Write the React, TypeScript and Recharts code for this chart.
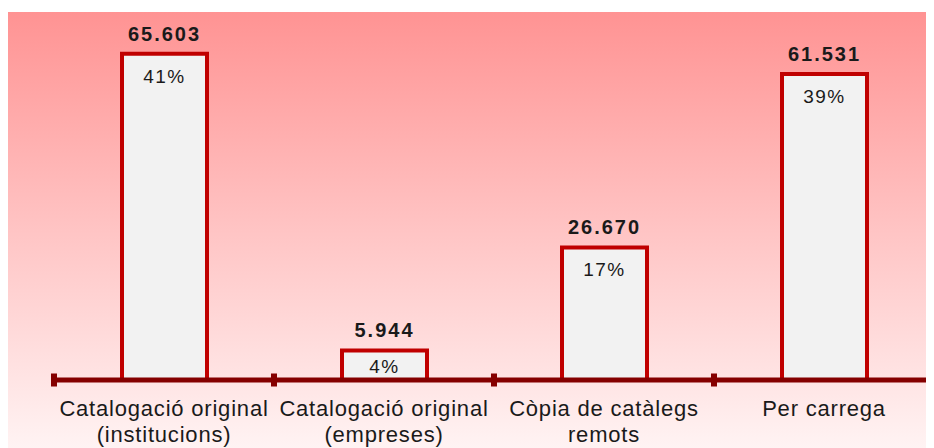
import React from 'react';
import { BarChart, Bar, XAxis, YAxis, LabelList } from 'recharts';

const categories: string[][] = [
  ['Catalogació original', '(institucions)'],
  ['Catalogació original', '(empreses)'],
  ['Còpia de catàlegs', 'remots'],
  ['Per carrega'],
];
const values: number[] = [65603, 5944, 26670, 61531];
const percents: string[] = ['41%', '4%', '17%', '39%'];

const data = categories.map((c, i) => ({
  name: c.join(' '),
  value: values[i],
  pct: percents[i],
  idx: i,
}));

const fmt = (v: number) => String(v).replace(/\B(?=(\d{3})+(?!\d))/g, '.');
const FONT = '"Liberation Sans", Arial, sans-serif';

const AxisTick = (props: any) => {
  const { x, y, payload, index, visibleTicksCount } = props;
  const half = payload && typeof payload.offset === 'number' && payload.offset > 0 ? payload.offset : 110;
  const lines = categories[payload.index ?? index] || [];
  const count = visibleTicksCount ?? categories.length;
  return (
    <g>
      <rect x={x - half - 3} y={y - 6.5} width={6} height={13} fill="#850000" />
      {index === count - 1 && (
        <rect x={x + half - 3} y={y - 6.5} width={6} height={13} fill="#850000" />
      )}
      {lines.map((l, i) => (
        <text
          key={i}
          x={x}
          y={y + 36 + i * 26}
          textAnchor="middle"
          fontFamily={FONT}
          fontSize={22}
          letterSpacing={0.8}
          fill="#1a1a1a"
        >
          {l}
        </text>
      ))}
    </g>
  );
};

const ValueLabel = (props: any) => {
  const { x, y, width, value } = props;
  return (
    <text
      x={x + width / 2}
      y={y - 13}
      textAnchor="middle"
      fontFamily={FONT}
      fontWeight="bold"
      fontSize={20}
      letterSpacing={2}
      fill="#1a1a1a"
    >
      {fmt(value)}
    </text>
  );
};

const PctLabel = (props: any) => {
  const { x, y, width, height, value } = props;
  const dy = Math.min(29, height * 0.75);
  return (
    <text
      x={x + width / 2}
      y={y + dy}
      textAnchor="middle"
      fontFamily={FONT}
      fontSize={19}
      letterSpacing={1.5}
      fill="#1a1a1a"
    >
      {value}
    </text>
  );
};

export default function App() {
  return (
    <div style={{ position: 'relative', width: 926, height: 440 }}>
      <div
        style={{
          position: 'absolute',
          left: 0,
          right: 0,
          top: 4,
          bottom: 0,
          background: 'linear-gradient(to bottom, #ff9393 0%, #ffc4c4 50%, #fff3f3 100%)',
        }}
      />
      <div style={{ position: 'absolute', left: 0, top: 0 }}>
        <BarChart
          width={926}
          height={440}
          data={data}
          margin={{ top: 24, right: 0, bottom: 0, left: 46 }}
        >
          <YAxis hide domain={[0, 70000]} />
          <Bar
            dataKey="value"
            fill="#f2f2f2"
            stroke="#c00000"
            strokeWidth={4}
            barSize={85}
            isAnimationActive={false}
          >
            <LabelList dataKey="value" content={<ValueLabel />} />
            <LabelList dataKey="pct" content={<PctLabel />} />
          </Bar>
          <XAxis
            dataKey="name"
            axisLine={{ stroke: '#850000', strokeWidth: 5 }}
            tickLine={false}
            tickSize={0}
            tickMargin={0}
            interval={0}
            height={68}
            tick={<AxisTick />}
          />
        </BarChart>
      </div>
    </div>
  );
}
